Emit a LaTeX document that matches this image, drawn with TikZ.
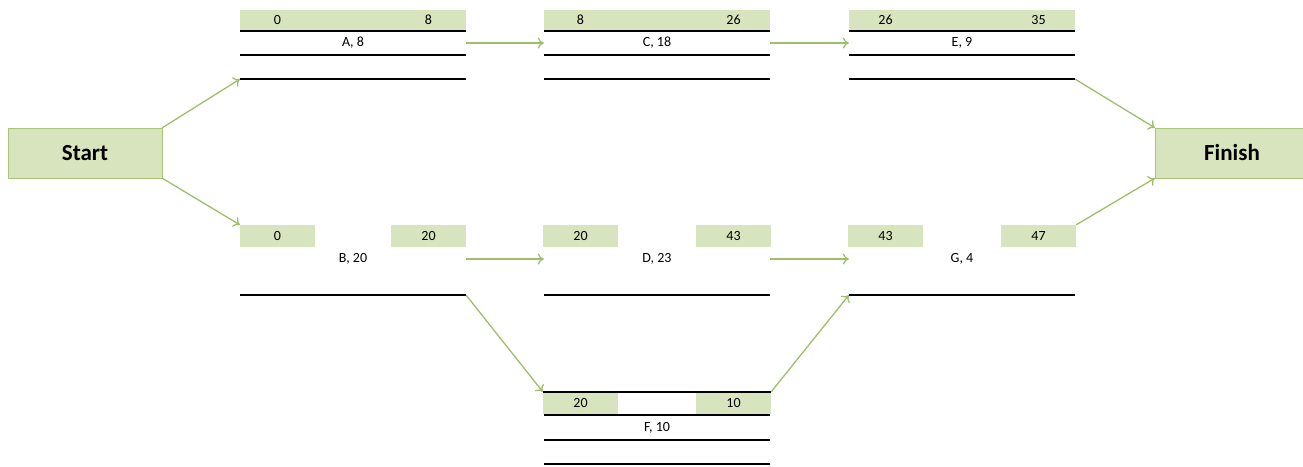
\documentclass[tikz,border=0pt]{standalone}
\usepackage{fontspec}
\usetikzlibrary{arrows.meta}
\setmainfont{Carlito}
\definecolor{cellgreen}{RGB}{215,228,189}
\definecolor{edgegreen}{RGB}{170,196,120}
\definecolor{linkgreen}{RGB}{160,190,105}
\begin{document}
\begin{tikzpicture}[x=1pt,y=-1pt,
    endbox/.style={draw=edgegreen,fill=cellgreen,minimum width=154pt,minimum height=50pt,inner sep=0pt,font=\fontsize{23}{23}\selectfont\bfseries},
    bar/.style={fill=cellgreen,minimum width=226pt,minimum height=20pt,inner sep=0pt},
    cell/.style={fill=cellgreen,minimum width=75pt,minimum height=22pt,inner sep=0pt,font=\fontsize{14}{14}\selectfont},
    num/.style={inner sep=0pt,font=\fontsize{14}{14}\selectfont},
    row/.style={minimum width=226pt,minimum height=24pt,inner sep=0pt,font=\fontsize{14}{14}\selectfont},
    rule/.style={line width=1.9pt},
    link/.style={draw=linkgreen,line width=1.3pt,-{To[length=6pt,width=11pt]}}]
    \useasboundingbox (0,0) rectangle (1303,466);
    % start and finish
    \node[endbox] (startbox) at (85,153) {Start};
    \node[endbox] (finishbox) at (1232,153) {Finish};
    % top row: A, C, E
    \node[bar] (Abar) at (353,20) {};
    \node[num] (A0) at (277.5,20) {0};
    \node[num] (A1) at (428.5,20) {8};
    \node[row] (Alab) at (353,43) {A, 8};
    \node[row] (Alow) at (353,67) {};
    \node[bar] (Cbar) at (657,20) {};
    \node[num] (C0) at (580.5,20) {8};
    \node[num] (C1) at (733.5,20) {26};
    \node[row] (Clab) at (657,43) {C, 18};
    \node[row] (Clow) at (657,67) {};
    \node[bar] (Ebar) at (962,20) {};
    \node[num] (E0) at (885.5,20) {26};
    \node[num] (E1) at (1038.5,20) {35};
    \node[row] (Elab) at (962,43) {E, 9};
    \node[row] (Elow) at (962,67) {};
    \foreach \a in {A,C,E} {
        \draw[rule] (\a lab.north west) -- (\a lab.north east);
        \draw[rule] (\a lab.south west) -- (\a lab.south east);
        \draw[rule] (\a low.south west) -- (\a low.south east);
    }
    % middle row: B, D, G
    \node[cell] (B0) at (277.5,236) {0};
    \node[cell] (B1) at (428.5,236) {20};
    \node[row] (Blab) at (353,259) {B, 20};
    \node[row] (Blow) at (353,283) {};
    \node[cell] (D0) at (580.5,236) {20};
    \node[cell] (D1) at (733.5,236) {43};
    \node[row] (Dlab) at (657,259) {D, 23};
    \node[row] (Dlow) at (657,283) {};
    \node[cell] (G0) at (885.5,236) {43};
    \node[cell] (G1) at (1038.5,236) {47};
    \node[row] (Glab) at (962,259) {G, 4};
    \node[row] (Glow) at (962,283) {};
    \foreach \a in {B,D,G}
        \draw[rule] (\a low.south west) -- (\a low.south east);
    % bottom row: F
    \node[cell] (F0) at (580.5,403) {20};
    \node[cell] (F1) at (733.5,403) {10};
    \node[row,minimum height=25pt] (Flab) at (657,427.5) {F, 10};
    \node[row] (Flow) at (657,452) {};
    \draw[rule] (F0.north west) -- (F1.north east);
    \draw[rule] (Flab.north west) -- (Flab.north east);
    \draw[rule] (Flab.south west) -- (Flab.south east);
    \draw[rule] (Flow.south west) -- (Flow.south east);
    % links
    \draw[link] (startbox.north east) -- (Alow.south west);
    \draw[link] (startbox.south east) -- (B0.north west);
    \draw[link] (Alab.east) -- (Clab.west);
    \draw[link] (Clab.east) -- (Elab.west);
    \draw[link] (Elow.south east) -- (finishbox.north west);
    \draw[link] (Blab.east) -- (Dlab.west);
    \draw[link] (Dlab.east) -- (Glab.west);
    \draw[link] (Blow.south east) -- (F0.north west);
    \draw[link] (F1.north east) -- (Glow.south west);
    \draw[link] (G1.north east) -- (finishbox.south west);
\end{tikzpicture}
\end{document}
